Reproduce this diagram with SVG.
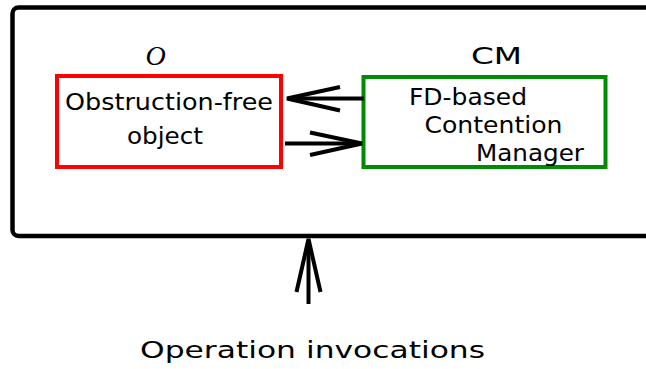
<svg xmlns="http://www.w3.org/2000/svg" width="646" height="369" viewBox="0 0 646 369">
  <style>
    .lbl { font-family: "DejaVu Sans", "Liberation Sans", sans-serif; font-size: 23px; fill: #000; }
    .conn { fill: none; stroke: #000; stroke-width: 4; }
    .head { fill: none; stroke: #000; stroke-width: 4; stroke-linejoin: miter; }
  </style>
  <rect width="646" height="369" fill="#fff"/>

  <!-- enclosing system -->
  <g id="system">
    <rect x="12.5" y="7.5" width="660" height="228.5" rx="6" ry="6" fill="none" stroke="#000" stroke-width="4.5"/>
  </g>

  <!-- object O -->
  <g id="object">
    <text x="155.5" y="65" text-anchor="middle" font-family="'Liberation Serif', serif" font-style="italic" font-size="28">O</text>
    <rect x="57" y="76" width="224" height="91" fill="none" stroke="#ff0000" stroke-width="4"/>
    <text class="lbl" x="65" y="109.5" font-size="22" textLength="208" lengthAdjust="spacingAndGlyphs">Obstruction-free</text>
    <text class="lbl" x="127" y="143.5" font-size="22" textLength="76" lengthAdjust="spacingAndGlyphs">object</text>
  </g>

  <!-- contention manager CM -->
  <g id="cm">
    <text class="lbl" x="471" y="64" textLength="51" lengthAdjust="spacingAndGlyphs">CM</text>
    <rect x="363.5" y="77" width="242" height="90" fill="none" stroke="#008c00" stroke-width="4"/>
    <text class="lbl" x="409" y="105" font-size="22" textLength="118" lengthAdjust="spacingAndGlyphs">FD-based</text>
    <text class="lbl" x="424.5" y="133" font-size="22" textLength="138" lengthAdjust="spacingAndGlyphs">Contention</text>
    <text class="lbl" x="476" y="161" font-size="22" textLength="108" lengthAdjust="spacingAndGlyphs">Manager</text>
  </g>

  <!-- invocation source label -->
  <g id="invocations">
    <text class="lbl" x="140" y="358" textLength="345" lengthAdjust="spacingAndGlyphs">Operation invocations</text>
  </g>

  <!-- connectors -->
  <g id="connectors">
    <!-- CM -> O -->
    <path class="conn" d="M364,98.5 H289"/>
    <path class="head" d="M340,87 L287,98.5 L340,110.5"/>
    <!-- O -> CM -->
    <path class="conn" d="M285,143.5 H359"/>
    <path class="head" d="M310,132.5 L362,143.5 L310,155"/>
    <!-- invocations -> system -->
    <path class="conn" d="M308.5,304 V241"/>
    <path class="head" d="M296.5,292 L308.5,239 L320.5,292"/>
  </g>
</svg>
